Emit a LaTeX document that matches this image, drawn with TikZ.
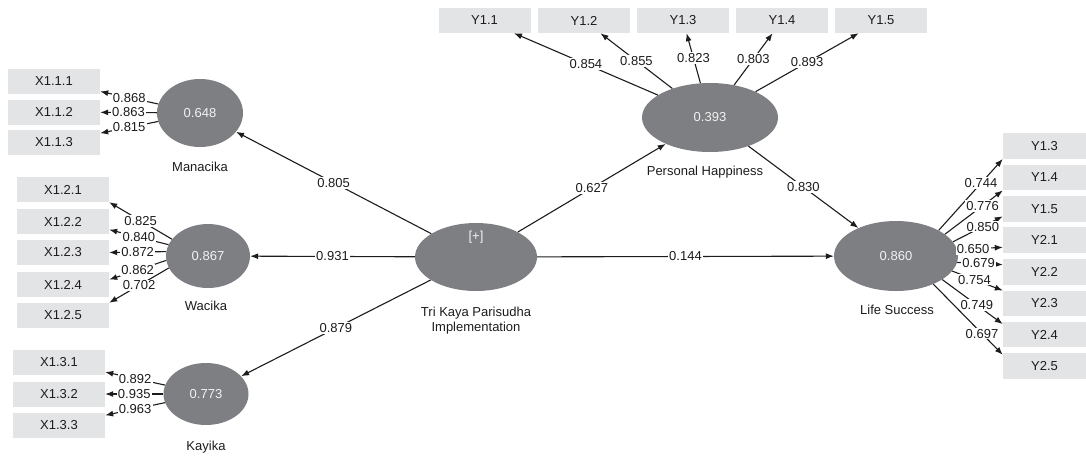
\documentclass[tikz,border=0pt]{standalone}
\usepackage{fontspec}
\setmainfont{Liberation Sans}
\usepackage{tikz}
\usetikzlibrary{arrows.meta,shapes.geometric}
\usepackage{xcolor}
\definecolor{LVGrey}{HTML}{7E7F83}
\definecolor{IndGrey}{HTML}{E3E4E6}
\definecolor{LVText}{HTML}{F2F2F2}
\definecolor{InkDark}{HTML}{1E1B1C}

\begin{document}
\begin{tikzpicture}[x=1pt,y=-1pt,
        font=\fontsize{13}{15}\selectfont,text=InkDark,
        lv/.style={ellipse,fill=LVGrey,text=LVText,inner sep=0pt},
        ind/.style={rectangle,fill=IndGrey,minimum width=92pt,minimum height=25pt,inner sep=0pt},
        indr/.style={ind,minimum width=83pt,minimum height=25.5pt},
        lvname/.style={inner sep=1pt,align=center},
        arr/.style={draw=InkDark,line width=1.1pt,-{Latex[length=8pt,width=6pt]}},
        coef/.style={fill=white,inner sep=1.2pt,text=InkDark}]
      \useasboundingbox (0,0) rectangle (1086,455);
      % latent variables
      \node[lv,minimum width=86pt,minimum height=68pt]  (man) at (200,113)   {0.648};
      \node[lv,minimum width=84pt,minimum height=64pt]  (wac) at (208,256)   {0.867};
      \node[lv,minimum width=85pt,minimum height=62pt]  (kay) at (206,394)   {0.773};
      \node[lv,minimum width=122pt,minimum height=68pt] (tkp) at (476,257)   {};
      \node[lv,minimum width=136pt,minimum height=69pt] (ph)  at (710,117.5) {0.393};
      \node[lv,minimum width=124pt,minimum height=70pt] (ls)  at (896,256)   {0.860};
      \node[text=LVText] (tkpplus) at (476,237) {[+]};
      \node[lvname] (manlbl) at (200,167) {Manacika};
      \node[lvname] (waclbl) at (206,306) {Wacika};
      \node[lvname] (kaylbl) at (206,447) {Kayika};
      \node[lvname] (tkplbl) at (476,321) {Tri Kaya Parisudha\\Implementation};
      \node[lvname] (phlbl)  at (705,172) {Personal Happiness};
      \node[lvname] (lslbl)  at (897,310) {Life Success};
      % indicators
      \node[ind] (x111) at (54,81.5)  {X1.1.1};
      \node[ind] (x112) at (54,112)   {X1.1.2};
      \node[ind] (x113) at (54,142.5) {X1.1.3};
      \node[ind] (x121) at (63,189.5) {X1.2.1};
      \node[ind] (x122) at (63,221.5) {X1.2.2};
      \node[ind] (x123) at (63,252.5) {X1.2.3};
      \node[ind] (x124) at (63,284.5) {X1.2.4};
      \node[ind] (x125) at (63,315.5) {X1.2.5};
      \node[ind] (x131) at (59,362)   {X1.3.1};
      \node[ind] (x132) at (59,394)   {X1.3.2};
      \node[ind] (x133) at (59,425)   {X1.3.3};
      \node[ind] (y11) at (484.5,20.5) {Y1.1};
      \node[ind] (y12) at (584,20.5)   {Y1.2};
      \node[ind] (y13) at (683,20.5)   {Y1.3};
      \node[ind] (y14) at (782,20.5)   {Y1.4};
      \node[ind] (y15) at (881,20.5)   {Y1.5};
      \node[indr] (ly13) at (1044.5,146)   {Y1.3};
      \node[indr] (ly14) at (1044.5,177.5) {Y1.4};
      \node[indr] (ly15) at (1044.5,209)   {Y1.5};
      \node[indr] (ly21) at (1044.5,240)   {Y2.1};
      \node[indr] (ly22) at (1044.5,272)   {Y2.2};
      \node[indr] (ly23) at (1044.5,303.5) {Y2.3};
      \node[indr] (ly24) at (1044.5,334.5) {Y2.4};
      \node[indr] (ly25) at (1044.5,366)   {Y2.5};
      % inner model
      \draw[arr] (tkp) -- node[coef] {0.805} (man);
      \draw[arr] (tkp) -- node[coef] {0.931} (wac);
      \draw[arr] (tkp) -- node[coef] {0.879} (kay);
      \draw[arr] (tkp) -- node[coef] {0.627} (ph);
      \draw[arr] (tkp) -- node[coef] {0.144} (ls);
      \draw[arr] (ph)  -- node[coef] {0.830} (ls);
      % outer loadings
      \draw[arr] (man) -- node[coef] {0.868} (x111);
      \draw[arr] (man) -- node[coef] {0.863} (x112);
      \draw[arr] (man) -- node[coef] {0.815} (x113);
      \draw[arr] (wac.155) -- node[coef] {0.825} (x121.south east);
      \draw[arr] (wac.164) -- node[coef] {0.840} (x122.350);
      \draw[arr] (wac.174) -- node[coef] {0.872} (x123.east);
      \draw[arr] (wac.186) -- node[coef] {0.862} (x124.6);
      \draw[arr] (wac.197) -- node[coef] {0.702} (x125.north east);
      \draw[arr] (kay) -- node[coef] {0.892} (x131);
      \draw[arr] (kay) -- node[coef] {0.935} (x132);
      \draw[arr] (kay) -- node[coef] {0.963} (x133);
      \draw[arr] (ph) -- node[coef] {0.854} (y11);
      \draw[arr] (ph) -- node[coef] {0.855} (y12);
      \draw[arr] (ph) -- node[coef] {0.823} (y13);
      \draw[arr] (ph) -- node[coef] {0.803} (y14);
      \draw[arr] (ph) -- node[coef] {0.893} (y15);
      \draw[arr] (ls.31)  -- node[coef,pos=0.66] {0.744} (ly13.south west);
      \draw[arr] (ls.24)  -- node[coef,pos=0.65] {0.776} (ly14.south west);
      \draw[arr] (ls.14)  -- node[coef,pos=0.6]  {0.850} (ly15.190);
      \draw[arr] (ls.6)   -- node[coef,pos=0.35] {0.650} (ly21.190);
      \draw[arr] (ls.354) -- node[coef,pos=0.47] {0.679} (ly22.170);
      \draw[arr] (ls.345) -- node[coef,pos=0.44] {0.754} (ly23.north west);
      \draw[arr] (ls.333) -- node[coef,pos=0.57] {0.749} (ly24.166);
      \draw[arr] (ls.323) -- node[coef,pos=0.7]  {0.697} (ly25.165);
    \end{tikzpicture}
\end{document}
